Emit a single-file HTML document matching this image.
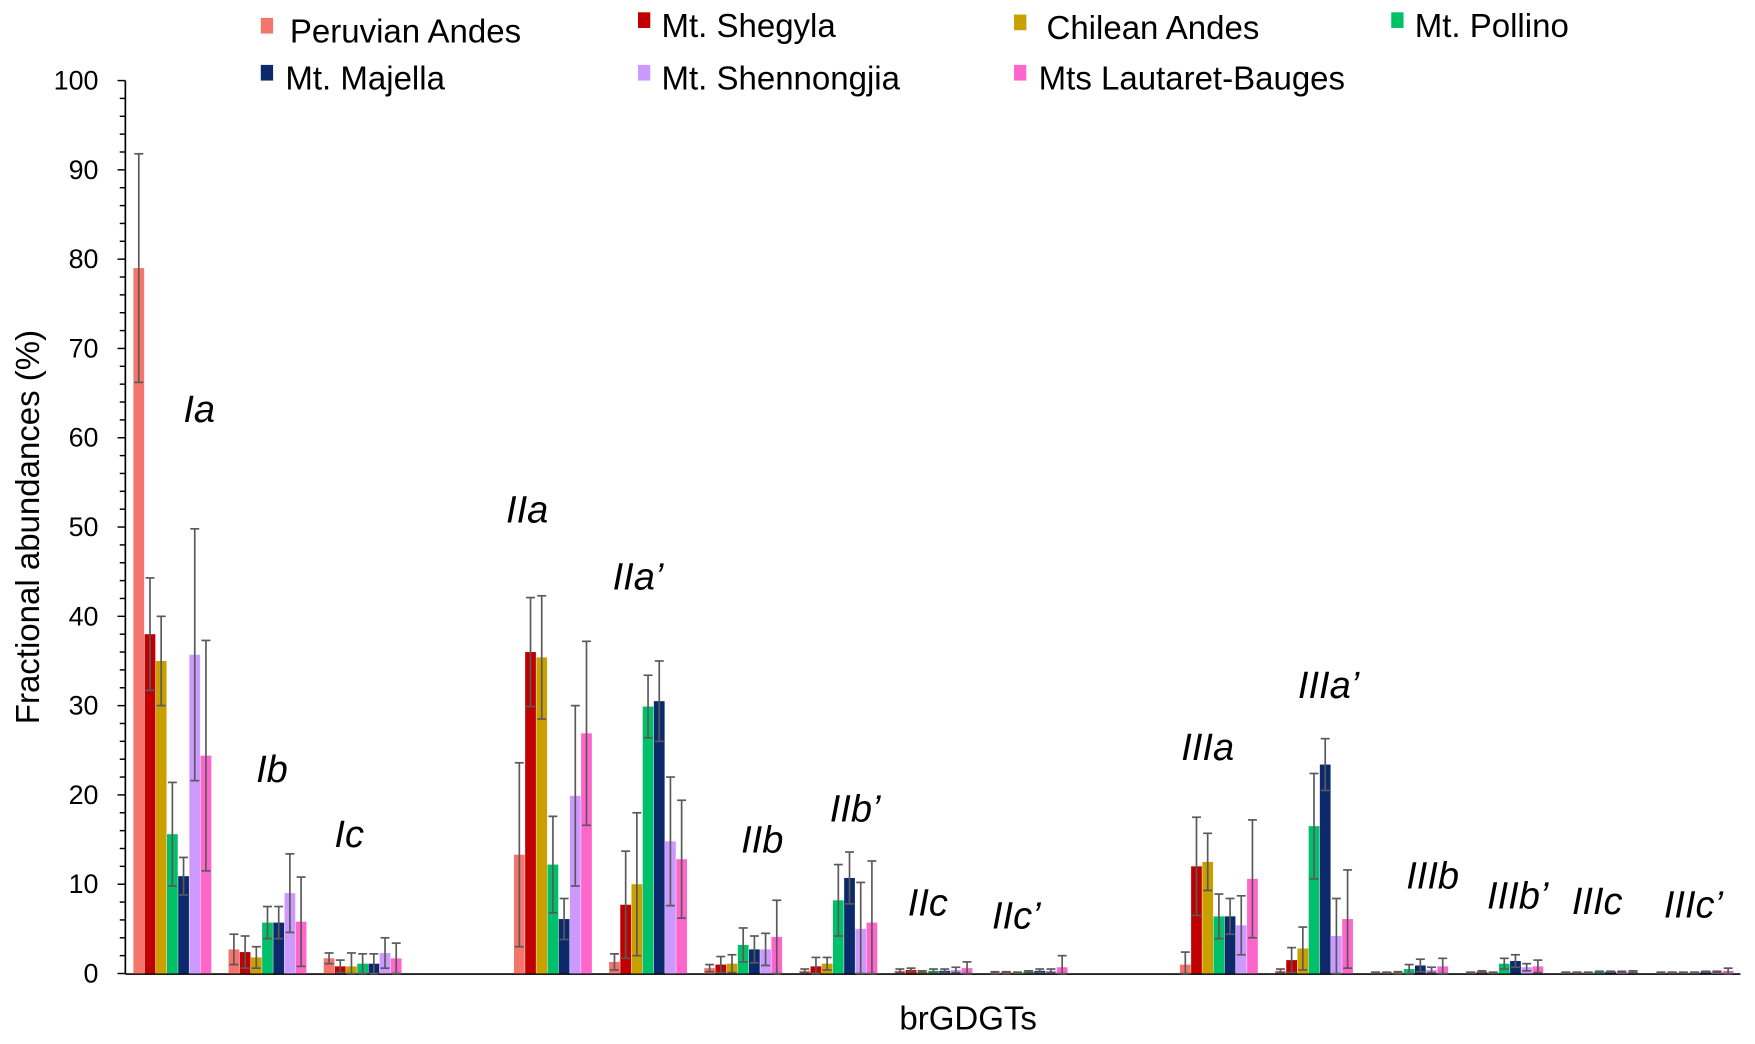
<!DOCTYPE html>
<html><head><meta charset="utf-8"><style>
html,body{margin:0;padding:0;background:#fff;}
svg{display:block;font-family:"Liberation Sans",Arial,sans-serif;}
</style></head><body>
<svg id="chart" width="1755" height="1044" viewBox="0 0 1568 933" preserveAspectRatio="none" xmlns="http://www.w3.org/2000/svg">
<g id="legend"></g>
<g id="axes"></g>
<g id="bars"></g>
<g id="labels"></g>
<text transform="translate(35,471) rotate(-90)" text-anchor="middle" font-size="29.5">Fractional abundances (%)</text>
<text x="865" y="920" text-anchor="middle" font-size="29.5">brGDGTs</text>
</svg>
<script>
const categories=["Ia","Ib","Ic","","IIa","IIa’","IIb","IIb’","IIc","IIc’","","IIIa","IIIa’","IIIb","IIIb’","IIIc","IIIc’"];
const seriesNames=["Peruvian Andes","Mt. Shegyla","Chilean Andes","Mt. Pollino","Mt. Majella","Mt. Shennongjia","Mts Lautaret-Bauges"];
const colors=["#F4756B","#C00000","#C9A000","#00C06A","#0C2A6B","#CC99FF","#FF66CC"];
const peruvian=[79,2.7,1.7,null,13.3,1.3,0.6,0.3,0.3,0.1,null,1.0,0.3,0.1,0.1,0.1,0.1];
const peruvianErr=[12.8,1.7,0.6,null,10.3,0.9,0.4,0.2,0.2,0.1,null,1.4,0.2,0.05,0.05,0.05,0.05];
const shegyla=[38,2.4,0.8,null,36,7.7,1.0,0.8,0.4,0.1,null,12,1.5,0.1,0.2,0.1,0.1];
const shegylaErr=[6.3,1.8,0.7,null,6.1,6,0.9,1.0,0.2,0.1,null,5.5,1.4,0.05,0.1,0.05,0.05];
const chilean=[35,1.8,0.8,null,35.4,10,1.1,1.1,0.2,0.1,null,12.5,2.8,0.1,0.1,0.1,0.1];
const chileanErr=[5,1.2,1.5,null,6.9,8,1.0,0.7,0.1,0.05,null,3.2,2.4,0.1,0.05,0.05,0.05];
const pollino=[15.6,5.7,1.1,null,12.2,29.9,3.2,8.2,0.3,0.2,null,6.4,16.5,0.5,1.1,0.2,0.1];
const pollinoErr=[5.8,1.8,1.1,null,5.4,3.5,1.9,4,0.2,0.1,null,2.5,5.9,0.5,0.6,0.05,0.05];
const majella=[10.9,5.7,1.1,null,6.1,30.5,2.7,10.7,0.3,0.3,null,6.4,23.4,0.9,1.4,0.2,0.2];
const majellaErr=[2.1,1.8,1.1,null,2.3,4.5,1.5,2.9,0.2,0.2,null,2,2.9,0.7,0.7,0.05,0.05];
const shennongjia=[35.7,9.0,2.3,null,19.9,14.8,2.7,5.0,0.4,0.3,null,5.4,4.2,0.4,0.7,0.2,0.2];
const shennongjiaErr=[14.1,4.4,1.7,null,10.1,7.2,1.8,5.2,0.3,0.2,null,3.3,4.2,0.3,0.4,0.05,0.05];
const lautaret=[24.4,5.8,1.7,null,26.9,12.8,4.1,5.7,0.6,0.7,null,10.6,6.1,0.8,0.8,0.2,0.3];
const lautaretErr=[12.9,5,1.7,null,10.3,6.6,4.1,6.9,0.7,1.3,null,6.6,5.5,0.9,0.7,0.1,0.3];
const yTicks=[0,10,20,30,40,50,60,70,80,90,100];
const values=[peruvian,shegyla,chilean,pollino,majella,shennongjia,lautaret];
const errors=[peruvianErr,shegylaErr,chileanErr,pollinoErr,majellaErr,shennongjiaErr,lautaretErr];
const labelPos=[[178,365],[243,687],[312,745],null,[471,455],[570,515],[681,750],[764,722],[829,806],[908,818],null,[1079,667],[1187,612],[1280,782],[1356,800],[1427,805],[1513,808]];

const NS="http://www.w3.org/2000/svg";
function mk(tag,attrs,parent,text){const e=document.createElementNS(NS,tag);for(const k in attrs)e.setAttribute(k,attrs[k]);if(text!==undefined)e.textContent=text;parent.appendChild(e);return e;}
const y0=870,yTop=72,axX=112;
function yScale(v){return y0-(v/100)*(y0-yTop);}
function xScale(ci,si){return 124+85*ci+10*si;}

const axes=document.getElementById('axes');
const yl=mk('line',{x1:axX,y1:yTop,x2:axX,y2:y0,stroke:'#000','stroke-width':1.5},axes);


for(let v=0;v<=100;v+=2){
  const len=(v%10===0)?7:5;
  const t=mk('line',{x1:axX-len,y1:yScale(v),x2:axX,y2:yScale(v),stroke:'#000','stroke-width':1.3},axes);
  
  
}
yTicks.forEach(v=>{
  const t=mk('text',{x:88,y:yScale(v)+8,'text-anchor':'end','font-size':24},axes,String(v));
  
  
});
const xl=mk('line',{x1:axX,y1:y0+0.5,x2:1555,y2:y0+0.5,stroke:'#000','stroke-width':1.5},axes);



const bars=document.getElementById('bars');
values.forEach((arr,si)=>{
  arr.forEach((v,ci)=>{
    if(v===null)return;
    const xc=xScale(ci,si),yv=yScale(v);
    const r=mk('rect',{x:xc-4.8,y:yv,width:9.6,height:y0-yv,fill:colors[si]},bars);
    
    
    const e=errors[si][ci];
    const yt=yScale(v+e),yb=yScale(Math.max(0,v-e));
    const g=mk('g',{stroke:'#595959','stroke-width':1.5},bars);
    
    
    mk('line',{x1:xc,y1:yt,x2:xc,y2:yb},g);
    mk('line',{x1:xc-4,y1:yt,x2:xc+4,y2:yt},g);
    mk('line',{x1:xc-4,y1:yb,x2:xc+4,y2:yb},g);
  });
});

const labels=document.getElementById('labels');
categories.forEach((c,ci)=>{
  if(!c)return;
  const p=labelPos[ci];
  const t=mk('text',{x:p[0],y:p[1]+12,'text-anchor':'middle','font-size':34,'font-style':'italic'},labels,c);
  
  
});

const legend=document.getElementById('legend');
const legPos=[[233,259,38],[570,591,33],[906,935,35],[1243,1264,33],[233,255,80],[570,591,80],[906,928,80]];
seriesNames.forEach((n,i)=>{
  const p=legPos[i];
  const g=mk('g',{},legend);
  
  
  mk('rect',{x:p[0],y:p[2]-22,width:11,height:14,fill:colors[i]},g);
  mk('text',{x:p[1],y:p[2],'font-size':29.5},g,n);
});
</script>
</body></html>
